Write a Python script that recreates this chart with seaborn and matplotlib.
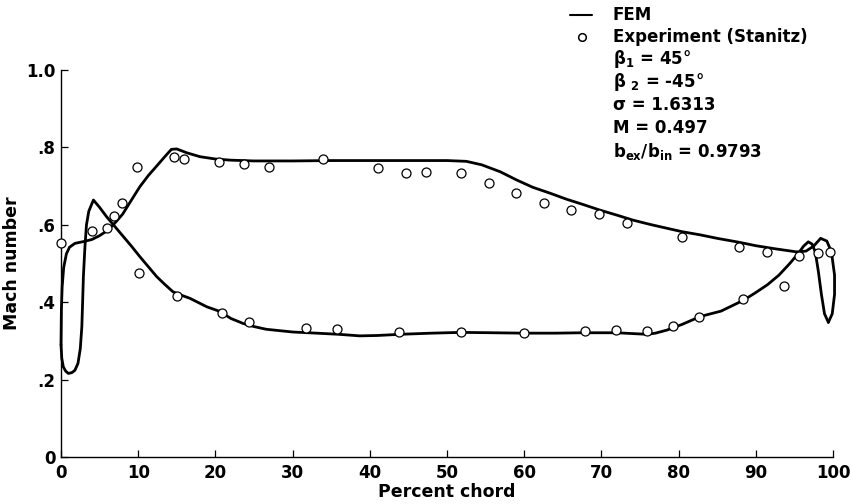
import matplotlib
matplotlib.use("Agg")
import matplotlib.pyplot as plt
import seaborn as sns
import pandas as pd
from matplotlib.lines import Line2D

# FEM curve, suction side (ordered along the surface)
fem_a_x = [0.0, 0.05, 0.15, 0.35, 0.7, 1.1, 1.8, 3.0, 4.0, 5.0, 6.0, 7.0, 8.0, 9.0,
           10.2, 11.3, 12.4, 13.4, 14.3, 15.0, 16.3, 18.0, 20.0, 22.0, 25, 30, 35, 40,
           45, 50, 52.5, 54.5, 56.9, 59, 61.1, 63.3, 65.5, 67.7, 69.8, 72, 74.1, 76.3,
           78.5, 80.5, 82.8, 85, 87.8, 90, 92.5, 95.3, 96.5, 97.5, 98.4, 99.2, 99.8,
           100.2, 100.2, 99.9, 99.4]
fem_a_m = [0.29, 0.38, 0.44, 0.49, 0.525, 0.542, 0.552, 0.557, 0.562, 0.572, 0.585,
           0.605, 0.628, 0.66, 0.698, 0.727, 0.752, 0.775, 0.795, 0.796, 0.786, 0.776,
           0.770, 0.767, 0.765, 0.765, 0.766, 0.766, 0.766, 0.766, 0.764, 0.755, 0.737,
           0.716, 0.697, 0.682, 0.666, 0.652, 0.638, 0.625, 0.612, 0.601, 0.591, 0.582,
           0.574, 0.565, 0.555, 0.546, 0.538, 0.530, 0.532, 0.545, 0.565, 0.558, 0.53,
           0.47, 0.42, 0.37, 0.348]

# FEM curve, pressure side
fem_b_x = [0.0, 0.1, 0.3, 0.6, 0.95, 1.4, 1.8, 2.2, 2.5, 2.7, 2.8, 2.9, 3.1, 3.3, 3.6,
           4.2, 5.0, 5.9, 7.0, 8.1, 9.2, 10.2, 11.3, 12.4, 13.5, 14.5, 15.6, 16.7, 17.8,
           18.9, 20.6, 22, 23.6, 25, 26.6, 30, 33.1, 36, 38.7, 41, 43.9, 48, 51.8, 56,
           60, 64, 67.4, 72, 75.9, 77, 78.5, 80.5, 82.8, 85.5, 88.4, 90, 91.5, 93, 94.4,
           95.5, 96.2, 96.8, 97.3, 97.7, 98.1, 98.5, 98.9, 99.4]
fem_b_m = [0.29, 0.255, 0.233, 0.222, 0.216, 0.218, 0.224, 0.242, 0.28, 0.337, 0.40,
           0.466, 0.543, 0.60, 0.635, 0.664, 0.645, 0.621, 0.595, 0.569, 0.543, 0.518,
           0.492, 0.466, 0.445, 0.427, 0.418, 0.41, 0.399, 0.388, 0.376, 0.358, 0.345,
           0.337, 0.330, 0.323, 0.320, 0.317, 0.313, 0.314, 0.317, 0.320, 0.322, 0.321,
           0.320, 0.320, 0.321, 0.321, 0.317, 0.32, 0.328, 0.343, 0.363, 0.377, 0.405,
           0.425, 0.445, 0.47, 0.50, 0.526, 0.545, 0.556, 0.55, 0.53, 0.48, 0.42, 0.37,
           0.348]

# Experiment (Stanitz)
exp_x = [0.0, 4.05, 5.9, 6.9, 7.9, 9.9, 14.6, 15.9, 20.5, 23.7, 26.9, 33.9, 41.1, 44.7,
         47.3, 51.8, 55.4, 58.9, 62.6, 66.0, 69.7, 73.3, 80.5, 87.8, 91.5, 95.6, 98.0,
         99.6,
         10.1, 15.0, 20.9, 24.4, 31.8, 35.8, 43.8, 51.8, 60.0, 67.9, 71.9, 75.9, 79.3,
         82.6, 88.4, 93.6]
exp_m = [0.554, 0.585, 0.591, 0.624, 0.657, 0.75, 0.774, 0.770, 0.763, 0.756, 0.750,
         0.769, 0.746, 0.733, 0.737, 0.733, 0.709, 0.683, 0.657, 0.638, 0.627, 0.604,
         0.569, 0.543, 0.530, 0.520, 0.526, 0.529,
         0.475, 0.416, 0.373, 0.350, 0.334, 0.332, 0.324, 0.322, 0.320, 0.326, 0.328,
         0.326, 0.339, 0.361, 0.407, 0.442]

x_ticks = [0, 10, 20, 30, 40, 50, 60, 70, 80, 90, 100]
y_ticks = [0, 0.2, 0.4, 0.6, 0.8, 1.0]
y_tick_labels = ["0", ".2", ".4", ".6", ".8", "1.0"]

legend_rows = ["β$_1$ = 45°", "β $_2$ = -45°", "σ = 1.6313", "M = 0.497",
               "b$_{ex}$/b$_{in}$ = 0.9793"]

sns.set_theme(style="ticks")
plt.rcParams["font.family"] = ["DejaVu Sans"]
plt.rcParams["font.weight"] = "bold"
plt.rcParams["mathtext.fontset"] = "custom"
plt.rcParams["mathtext.rm"] = "DejaVu Sans:bold"
plt.rcParams["mathtext.it"] = "DejaVu Sans:bold"
plt.rcParams["mathtext.bf"] = "DejaVu Sans:bold"
for key in ("text.color", "axes.labelcolor", "xtick.color", "ytick.color",
            "axes.edgecolor"):
    plt.rcParams[key] = "black"

fig = plt.figure(figsize=(8.51, 5.04), dpi=100)
ax = fig.add_axes([61 / 851, 1 - 457 / 504, (833 - 61) / 851, (457 - 70) / 504])

df_a = pd.DataFrame({"x": fem_a_x, "m": fem_a_m})
df_b = pd.DataFrame({"x": fem_b_x, "m": fem_b_m})
df_e = pd.DataFrame({"x": exp_x, "m": exp_m})

for d in (df_a, df_b):
    sns.lineplot(data=d, x="x", y="m", sort=False, estimator=None, color="black",
                 linewidth=2.0, ax=ax, clip_on=False)
sns.scatterplot(data=df_e, x="x", y="m", marker="o", s=42, facecolor="white",
                edgecolor="black", linewidth=0.9, ax=ax, clip_on=False, zorder=3)

ax.set_xlim(0, 100)
ax.set_ylim(0, 1.0)
ax.set_xticks(x_ticks)
ax.set_yticks(y_ticks)
ax.set_yticklabels(y_tick_labels)
ax.tick_params(direction="in", length=5, width=0.9, labelsize=12, color="black",
               labelcolor="black")
ax.tick_params(axis="x", pad=5)
ax.tick_params(axis="y", pad=4)
for lab in ax.get_xticklabels() + ax.get_yticklabels():
    lab.set_fontweight("bold")
sns.despine(ax=ax)
for s in ("left", "bottom"):
    ax.spines[s].set_linewidth(1.0)
    ax.spines[s].set_color("black")

ax.set_xlabel("Percent chord", fontsize=12.5, fontweight="bold", labelpad=1,
              color="black")
ax.set_ylabel("Mach number", fontsize=12.5, fontweight="bold", labelpad=4,
              color="black")

# legend block, top right
def fy(py):
    return 1 - py / 504

fig.add_artist(Line2D([570 / 851, 592 / 851], [fy(15), fy(15)], color="black",
                      linewidth=1.5))
fig.add_artist(Line2D([582 / 851], [fy(37)], marker="o", markersize=5.5,
                      markerfacecolor="white", markeredgecolor="black",
                      markeredgewidth=1.1, linestyle="none"))
fig.text(613 / 851, fy(15), "FEM", fontsize=12, fontweight="bold", va="center",
         color="black")
fig.text(613 / 851, fy(37), "Experiment (Stanitz)", fontsize=12, fontweight="bold",
         va="center", color="black")
for i, row in enumerate(legend_rows):
    fig.text(613 / 851, fy(59 + 23 * i), row, fontsize=12, fontweight="bold",
             va="center", color="black")

fig.savefig("out.png", dpi=100)
